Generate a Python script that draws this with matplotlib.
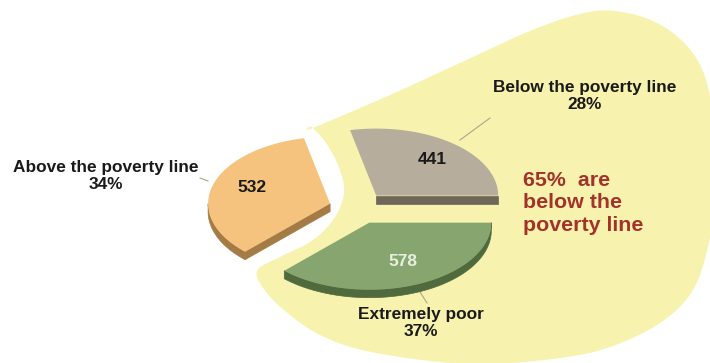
import numpy as np
import matplotlib.pyplot as plt
from matplotlib.patches import Polygon

plt.rcParams['font.family'] = ['Liberation Sans', 'DejaVu Sans']

# Households by poverty status
labels = ["Below the poverty line", "Above the poverty line", "Extremely poor"]
counts = [441, 532, 578]
top_colors = ["#b6ad9c", "#f5c37e", "#87a56f"]
side_colors = ["#6f6858", "#a57b45", "#4f6b3d"]
value_colors = ["#1a1a1a", "#1a1a1a", "#e9efdf"]

total = sum(counts)
pcts = [round(100 * c / total) for c in counts]
below_share = pcts[0] + pcts[2]

fig = plt.figure(figsize=(7.1, 3.63), dpi=100)
ax = fig.add_axes([0, 0, 1, 1])
ax.set_xlim(0, 710)
ax.set_ylim(363, 0)
ax.axis("off")


def smooth_closed(pts, n=16):
    # Catmull-Rom through the outline points
    pts = np.asarray(pts, float)
    m = len(pts)
    out = []
    for i in range(m):
        p0, p1, p2, p3 = pts[i - 1], pts[i], pts[(i + 1) % m], pts[(i + 2) % m]
        for t in np.linspace(0, 1, n, endpoint=False):
            t2, t3 = t * t, t * t * t
            out.append(0.5 * (2 * p1 + (-p0 + p2) * t
                              + (2 * p0 - 5 * p1 + 4 * p2 - p3) * t2
                              + (-p0 + 3 * p1 - 3 * p2 + p3) * t3))
    return np.array(out)


# pale yellow highlight behind the poor households
blob = [(312, 127), (313, 128), (390, 95), (460, 63), (530, 31), (580, 14),
        (615, 11), (655, 22), (688, 47), (707, 83), (714, 140), (713, 200),
        (709, 242), (693, 290), (660, 323), (610, 347), (560, 358), (490, 364),
        (430, 361), (362, 350), (320, 335), (290, 315), (266, 292), (257, 271),
        (280, 257), (310, 242), (330, 224), (341, 205), (344, 187), (338, 165),
        (326, 143)]
ax.add_patch(Polygon(smooth_closed(blob), closed=True, facecolor="#f7f2ae",
                     edgecolor="none", zorder=0))

# tilted, exploded pie
cx, cy = 358, 208
rx, ry = 122, 67
explode = 29
depth = 8


def arc(x0, y0, a0, a1, n=90):
    t = np.radians(np.linspace(a0, a1, n))
    return np.column_stack([x0 + rx * np.cos(t), y0 - ry * np.sin(t)])


def side_faces(x0, y0, a0, a1):
    faces = []
    down = np.array([0, depth])
    # rim of the wedge, only on the near half of the ellipse
    lo, hi = max(a0, 180), min(a1, 360)
    if hi > lo:
        rim = arc(x0, y0, lo, hi)
        faces.append(np.vstack([rim, (rim + down)[::-1]]))
    # the two cut faces, when they turn toward the viewer
    for ang, normal in [(a0, a0 - 90), (a1, a1 + 90)]:
        if np.sin(np.radians(normal)) < -0.3:
            p = arc(x0, y0, ang, ang, 1)[0]
            c = np.array([x0, y0])
            faces.append(np.array([c, p, p + down, c + down]))
    return faces


start = 0.0
geom = []
for c in counts:
    sweep = 360.0 * c / total
    mid = np.radians(start + sweep / 2)
    x0 = cx + explode * np.cos(mid)
    y0 = cy - explode * (ry / rx) * np.sin(mid)
    geom.append((x0, y0, start, start + sweep))
    start += sweep

for i in [0, 1, 2]:
    x0, y0, a0, a1 = geom[i]
    for face in side_faces(x0, y0, a0, a1):
        ax.add_patch(Polygon(face, closed=True, facecolor=side_colors[i],
                             edgecolor=side_colors[i], lw=0.5, zorder=2 + i))
    top = np.vstack([[x0, y0], arc(x0, y0, a0, a1)])
    ax.add_patch(Polygon(top, closed=True, facecolor=top_colors[i],
                         edgecolor="none", zorder=2.5 + i))

# values on the slices
value_pos = [(432, 160), (252, 188), (403, 262)]
for i, (vx, vy) in enumerate(value_pos):
    ax.text(vx, vy, str(counts[i]), ha="center", va="center", fontsize=12.5,
            fontweight="bold", color=value_colors[i], zorder=10)

# category labels with leader lines
label_pos = [(585, 96), (106, 176), (421, 323)]
leaders = [((460, 140), (490, 118)), ((200, 178), (208, 181)), ((420, 292), (427, 303))]
for i, (lx, ly) in enumerate(label_pos):
    ax.text(lx, ly, f"{labels[i]}\n{pcts[i]}%", ha="center", va="center",
            fontsize=12.4, fontweight="bold", color="#1a1a1a",
            linespacing=1.1, zorder=10)
    (x1, y1), (x2, y2) = leaders[i]
    ax.plot([x1, x2], [y1, y2], color="#a9a88a", lw=0.8, zorder=1)

ax.text(523, 203, f"{below_share}%  are\nbelow the\npoverty line", ha="left",
        va="center", fontsize=15.4, fontweight="bold", color="#a3332a",
        linespacing=1.22, zorder=10)

fig.savefig("out.png", dpi=100)
